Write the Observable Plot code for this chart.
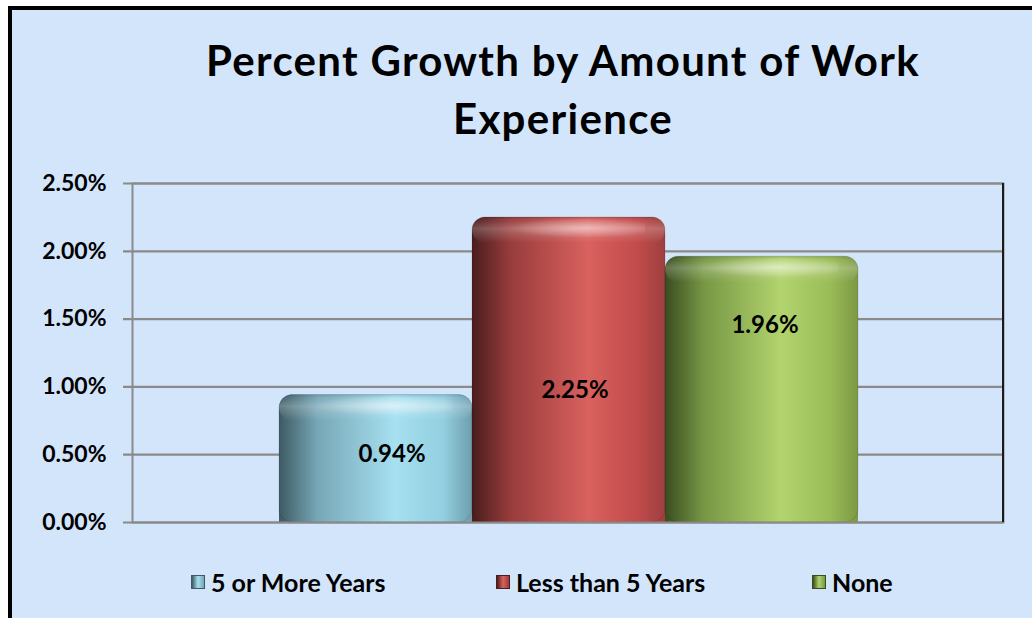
<!DOCTYPE html>
<html><head><meta charset="utf-8">
<script src="https://cdn.jsdelivr.net/npm/d3@7"></script>
<script src="https://cdn.jsdelivr.net/npm/@observablehq/plot@0.6"></script>
<style>
body{margin:0;background:#fff;overflow:hidden;font-family:Lato,"Open Sans",sans-serif;}
#wrap{position:relative;width:1032px;height:618px;overflow:hidden;}
#panel{position:absolute;left:8px;top:6px;width:1100px;height:700px;border:4.5px solid #000;background:#d3e5fb;box-sizing:border-box;}
#chart{position:absolute;left:0;top:0;}
#title{position:absolute;left:0;top:31px;width:1126px;text-align:center;font-weight:bold;font-size:42px;letter-spacing:1.3px;line-height:58px;color:#000;}
.leg{position:absolute;top:567px;height:30px;line-height:30px;font-weight:bold;font-size:25px;color:#000;white-space:nowrap;}
.sw{position:absolute;top:575px;width:14px;height:14px;box-sizing:border-box;}
</style></head>
<body>
<div id="wrap">
  <div id="panel"></div>
  <div id="chart"></div>
  <div id="title">Percent Growth by Amount of Work<br>Experience</div>
  <div id="legend"></div>
</div>
<script>
const series = ["5 or More Years", "Less than 5 Years", "None"];
const values = [0.0094, 0.0225, 0.0196];
const labelAt = [0.0050, 0.00975, 0.01455]; // label anchor heights
const labelDx = [16, 6, 3];                // label horizontal shift
const yTicks = [0, 0.005, 0.01, 0.015, 0.02, 0.025];

const data = series.map((s, i) => ({series: s, value: values[i], half: values[i] / 2, labelY: labelAt[i], label: d3.format(".2%")(values[i])}));

const grads = [
  ["#3d5a63", "#77a7b6", "#a6e0f1", "#93cfe0", "#6e9eae"],
  ["#4a1d1d", "#983c3c", "#d9615e", "#c24c4b", "#9f3f3f"],
  ["#394d20", "#779745", "#b2d36d", "#9bbd58", "#7c9943"]
];
const gradStops = [0, 0.2, 0.6, 0.85, 1];
const barFill = ["url(#g0)", "url(#g1)", "url(#g2)"];

function defs() {
  const g = d3.create("svg:g");
  const d = g.append("defs");
  grads.forEach((cols, i) => {
    const lg = d.append("linearGradient").attr("id", "g" + i).attr("x1", 0).attr("x2", 1).attr("y1", 0).attr("y2", 0);
    cols.forEach((c, j) => lg.append("stop").attr("offset", gradStops[j]).attr("stop-color", c));
  });
  const cap = d.append("linearGradient").attr("id", "cap").attr("x1", 0).attr("x2", 0).attr("y1", 0).attr("y2", 1);
  cap.append("stop").attr("offset", 0).attr("stop-color", "#000").attr("stop-opacity", 0.12);
  cap.append("stop").attr("offset", 0.15).attr("stop-color", "#fff").attr("stop-opacity", 0.05);
  cap.append("stop").attr("offset", 0.45).attr("stop-color", "#fff").attr("stop-opacity", 0.22);
  cap.append("stop").attr("offset", 1).attr("stop-color", "#fff").attr("stop-opacity", 0);
  const rg = d.append("radialGradient").attr("id", "glow").attr("cx", 0.6).attr("cy", 0.45).attr("r", 0.5);
  rg.append("stop").attr("offset", 0).attr("stop-color", "#fff").attr("stop-opacity", 0.45);
  rg.append("stop").attr("offset", 1).attr("stop-color", "#fff").attr("stop-opacity", 0);
  return g.node();
}

function rightEdge(index, scales, values, dim) {
  const w = dim ? dim.width : 1032, mr = dim ? dim.marginRight : 29, mt = dim ? dim.marginTop : 183, h = dim ? dim.height : 618, mb = dim ? dim.marginBottom : 96;
  const g = d3.create("svg:g");
  g.append("line").attr("x1", w - mr).attr("x2", w - mr).attr("y1", mt).attr("y2", h - mb).attr("stroke", "#1a1a1a").attr("stroke-width", 2);
  return g.node();
}

const chart = Plot.plot({
  width: 1032,
  height: 618,
  marginTop: 183,
  marginBottom: 96,
  marginLeft: 132,
  marginRight: 29,
  style: {background: "transparent", fontFamily: "Lato, 'Open Sans', sans-serif"},
  x: {type: "band", domain: series, range: [278, 858], padding: 0, axis: null},
  y: {domain: [0, 0.025], axis: null},
  color: {type: "ordinal", domain: series, range: barFill},
  marks: [
    defs,
    Plot.ruleY(yTicks, {stroke: "#8a8a8a", strokeWidth: 2.2, insetLeft: -9}),
    Plot.axisY(yTicks, {tickSize: 0, tickPadding: 26, tickFormat: d3.format(".2%"), fontSize: 23, fontWeight: "bold", fill: "#000"}),
    Plot.barY(data, {x: "series", y: "value", fill: "series", rx: 13, inset: 0}),
    Plot.barY(data, {x: "series", y: "half", fill: "series", inset: 0}),
    Plot.barY(data, {x: "series", y1: "value", y2: "value", fill: "url(#cap)", rx: 13, insetTop: 0, insetBottom: -26, insetLeft: 0, insetRight: 0}),
    Plot.barY(data, {x: "series", y1: "value", y2: "value", fill: "url(#glow)", insetTop: 2, insetBottom: -22, insetLeft: 20, insetRight: 20}),
    Plot.barY(data, {x: "series", y: "value", fill: "none", stroke: "#000", strokeOpacity: 0.12, strokeWidth: 1, rx: 13}),
    Plot.frame({stroke: "#8a8a8a", strokeWidth: 2}),
    rightEdge,
    ...data.map((d, i) => Plot.text([d], {x: "series", y: "labelY", text: "label", dx: labelDx[i], fontSize: 24, fontWeight: "bold", fill: "#000"}))
  ]
});
document.getElementById("chart").appendChild(chart);

// legend
const legend = document.getElementById("legend");
const swLeft = [191, 496, 812];
series.forEach((s, i) => {
  const sw = document.createElement("div");
  sw.className = "sw";
  sw.style.left = swLeft[i] + "px";
  const c = grads[i];
  sw.style.background = `linear-gradient(90deg, ${c[0]} 0%, ${c[2]} 50%, ${c[1]} 100%)`;
  sw.style.border = `1px solid ${c[0]}`;
  legend.appendChild(sw);
  const t = document.createElement("div");
  t.className = "leg";
  t.style.left = (swLeft[i] + 20) + "px";
  t.textContent = s;
  legend.appendChild(t);
});
</script>
</body></html>
